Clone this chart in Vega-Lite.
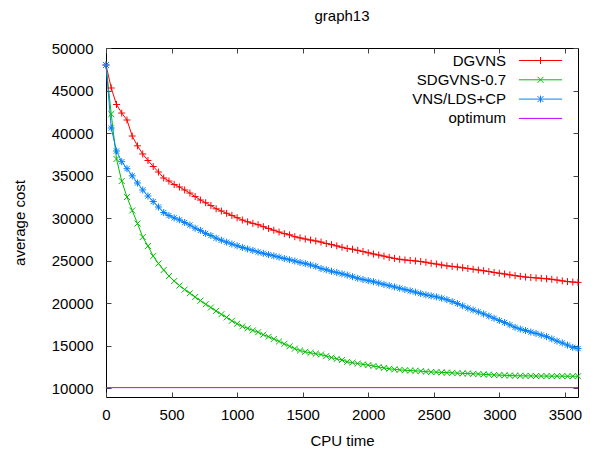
{
"$schema": "https://vega.github.io/schema/vega-lite/v6.json",
"width": 472, "height": 349,
"autosize": {"type": "none"},
"padding": {"left": 106, "top": 48, "right": 13, "bottom": 55},
"background": "white",
"title": {"text": "graph13", "fontSize": 15, "fontWeight": "normal", "font": "Liberation Sans", "color": "black", "offset": 17, "frame": "group"},
"config": {
  "view": {"stroke": "black", "strokeWidth": 1},
  "axis": {"domain": false, "grid": false, "tickColor": "#444", "tickSize": -5, "labelFont": "Liberation Sans", "labelFontSize": 15, "labelColor": "black", "titleFont": "Liberation Sans", "titleFontSize": 15, "titleFontWeight": "normal", "titleColor": "black"}
},
"data": {"values": [
{"s":"DGVNS","t":0,"v":48000},{"s":"DGVNS","t":40,"v":45300},{"s":"DGVNS","t":80,"v":43360},{"s":"DGVNS","t":120,"v":42360},{"s":"DGVNS","t":160,"v":41540},{"s":"DGVNS","t":200,"v":39660},{"s":"DGVNS","t":240,"v":38510},{"s":"DGVNS","t":280,"v":37550},{"s":"DGVNS","t":320,"v":36780},{"s":"DGVNS","t":360,"v":36080},
{"s":"DGVNS","t":400,"v":35430},{"s":"DGVNS","t":440,"v":34730},{"s":"DGVNS","t":480,"v":34370},{"s":"DGVNS","t":520,"v":33960},{"s":"DGVNS","t":560,"v":33670},{"s":"DGVNS","t":600,"v":33320},{"s":"DGVNS","t":640,"v":32960},{"s":"DGVNS","t":680,"v":32550},{"s":"DGVNS","t":720,"v":32140},{"s":"DGVNS","t":760,"v":31820},
{"s":"DGVNS","t":800,"v":31490},{"s":"DGVNS","t":840,"v":31110},{"s":"DGVNS","t":880,"v":30850},{"s":"DGVNS","t":920,"v":30580},{"s":"DGVNS","t":960,"v":30330},{"s":"DGVNS","t":1000,"v":30060},{"s":"DGVNS","t":1040,"v":29790},{"s":"DGVNS","t":1080,"v":29580},{"s":"DGVNS","t":1120,"v":29400},{"s":"DGVNS","t":1160,"v":29240},
{"s":"DGVNS","t":1200,"v":29010},{"s":"DGVNS","t":1240,"v":28790},{"s":"DGVNS","t":1280,"v":28590},{"s":"DGVNS","t":1320,"v":28380},{"s":"DGVNS","t":1360,"v":28190},{"s":"DGVNS","t":1400,"v":28050},{"s":"DGVNS","t":1440,"v":27830},{"s":"DGVNS","t":1480,"v":27690},{"s":"DGVNS","t":1520,"v":27560},{"s":"DGVNS","t":1560,"v":27440},
{"s":"DGVNS","t":1600,"v":27330},{"s":"DGVNS","t":1640,"v":27200},{"s":"DGVNS","t":1680,"v":27030},{"s":"DGVNS","t":1720,"v":26900},{"s":"DGVNS","t":1760,"v":26750},{"s":"DGVNS","t":1800,"v":26590},{"s":"DGVNS","t":1840,"v":26450},{"s":"DGVNS","t":1880,"v":26360},{"s":"DGVNS","t":1920,"v":26230},{"s":"DGVNS","t":1960,"v":26090},
{"s":"DGVNS","t":2000,"v":25940},{"s":"DGVNS","t":2040,"v":25800},{"s":"DGVNS","t":2080,"v":25680},{"s":"DGVNS","t":2120,"v":25550},{"s":"DGVNS","t":2160,"v":25410},{"s":"DGVNS","t":2200,"v":25280},{"s":"DGVNS","t":2240,"v":25180},{"s":"DGVNS","t":2280,"v":25100},{"s":"DGVNS","t":2320,"v":25040},{"s":"DGVNS","t":2360,"v":24980},
{"s":"DGVNS","t":2400,"v":24910},{"s":"DGVNS","t":2440,"v":24830},{"s":"DGVNS","t":2480,"v":24710},{"s":"DGVNS","t":2520,"v":24620},{"s":"DGVNS","t":2560,"v":24510},{"s":"DGVNS","t":2600,"v":24410},{"s":"DGVNS","t":2640,"v":24340},{"s":"DGVNS","t":2680,"v":24270},{"s":"DGVNS","t":2720,"v":24180},{"s":"DGVNS","t":2760,"v":24100},
{"s":"DGVNS","t":2800,"v":24010},{"s":"DGVNS","t":2840,"v":23920},{"s":"DGVNS","t":2880,"v":23830},{"s":"DGVNS","t":2920,"v":23740},{"s":"DGVNS","t":2960,"v":23630},{"s":"DGVNS","t":3000,"v":23540},{"s":"DGVNS","t":3040,"v":23450},{"s":"DGVNS","t":3080,"v":23350},{"s":"DGVNS","t":3120,"v":23260},{"s":"DGVNS","t":3160,"v":23170},
{"s":"DGVNS","t":3200,"v":23090},{"s":"DGVNS","t":3240,"v":23040},{"s":"DGVNS","t":3280,"v":22990},{"s":"DGVNS","t":3320,"v":22940},{"s":"DGVNS","t":3360,"v":22890},{"s":"DGVNS","t":3400,"v":22830},{"s":"DGVNS","t":3440,"v":22740},{"s":"DGVNS","t":3480,"v":22640},{"s":"DGVNS","t":3520,"v":22560},{"s":"DGVNS","t":3560,"v":22510},{"s":"DGVNS","t":3600,"v":22460},
{"s":"SDGVNS-0.7","t":0,"v":48000},{"s":"SDGVNS-0.7","t":40,"v":42240},{"s":"SDGVNS-0.7","t":80,"v":36960},{"s":"SDGVNS-0.7","t":120,"v":34370},{"s":"SDGVNS-0.7","t":160,"v":32490},{"s":"SDGVNS-0.7","t":200,"v":30910},{"s":"SDGVNS-0.7","t":240,"v":29380},{"s":"SDGVNS-0.7","t":280,"v":27790},{"s":"SDGVNS-0.7","t":320,"v":26740},{"s":"SDGVNS-0.7","t":360,"v":25560},
{"s":"SDGVNS-0.7","t":400,"v":24680},{"s":"SDGVNS-0.7","t":440,"v":23920},{"s":"SDGVNS-0.7","t":480,"v":23210},{"s":"SDGVNS-0.7","t":520,"v":22620},{"s":"SDGVNS-0.7","t":560,"v":22090},{"s":"SDGVNS-0.7","t":600,"v":21620},{"s":"SDGVNS-0.7","t":640,"v":21190},{"s":"SDGVNS-0.7","t":680,"v":20740},{"s":"SDGVNS-0.7","t":720,"v":20320},{"s":"SDGVNS-0.7","t":760,"v":19900},
{"s":"SDGVNS-0.7","t":800,"v":19510},{"s":"SDGVNS-0.7","t":840,"v":19110},{"s":"SDGVNS-0.7","t":880,"v":18720},{"s":"SDGVNS-0.7","t":920,"v":18350},{"s":"SDGVNS-0.7","t":960,"v":17950},{"s":"SDGVNS-0.7","t":1000,"v":17610},{"s":"SDGVNS-0.7","t":1040,"v":17290},{"s":"SDGVNS-0.7","t":1080,"v":17070},{"s":"SDGVNS-0.7","t":1120,"v":16830},{"s":"SDGVNS-0.7","t":1160,"v":16610},
{"s":"SDGVNS-0.7","t":1200,"v":16320},{"s":"SDGVNS-0.7","t":1240,"v":16080},{"s":"SDGVNS-0.7","t":1280,"v":15810},{"s":"SDGVNS-0.7","t":1320,"v":15530},{"s":"SDGVNS-0.7","t":1360,"v":15240},{"s":"SDGVNS-0.7","t":1400,"v":14960},{"s":"SDGVNS-0.7","t":1440,"v":14680},{"s":"SDGVNS-0.7","t":1480,"v":14460},{"s":"SDGVNS-0.7","t":1520,"v":14310},{"s":"SDGVNS-0.7","t":1560,"v":14190},
{"s":"SDGVNS-0.7","t":1600,"v":14080},{"s":"SDGVNS-0.7","t":1640,"v":13990},{"s":"SDGVNS-0.7","t":1680,"v":13810},{"s":"SDGVNS-0.7","t":1720,"v":13630},{"s":"SDGVNS-0.7","t":1760,"v":13480},{"s":"SDGVNS-0.7","t":1800,"v":13350},{"s":"SDGVNS-0.7","t":1840,"v":13130},{"s":"SDGVNS-0.7","t":1880,"v":13030},{"s":"SDGVNS-0.7","t":1920,"v":12930},{"s":"SDGVNS-0.7","t":1960,"v":12830},
{"s":"SDGVNS-0.7","t":2000,"v":12750},{"s":"SDGVNS-0.7","t":2040,"v":12640},{"s":"SDGVNS-0.7","t":2080,"v":12530},{"s":"SDGVNS-0.7","t":2120,"v":12420},{"s":"SDGVNS-0.7","t":2160,"v":12320},{"s":"SDGVNS-0.7","t":2200,"v":12250},{"s":"SDGVNS-0.7","t":2240,"v":12190},{"s":"SDGVNS-0.7","t":2280,"v":12140},{"s":"SDGVNS-0.7","t":2320,"v":12110},{"s":"SDGVNS-0.7","t":2360,"v":12070},
{"s":"SDGVNS-0.7","t":2400,"v":12040},{"s":"SDGVNS-0.7","t":2440,"v":11980},{"s":"SDGVNS-0.7","t":2480,"v":11940},{"s":"SDGVNS-0.7","t":2520,"v":11920},{"s":"SDGVNS-0.7","t":2560,"v":11890},{"s":"SDGVNS-0.7","t":2600,"v":11860},{"s":"SDGVNS-0.7","t":2640,"v":11840},{"s":"SDGVNS-0.7","t":2680,"v":11800},{"s":"SDGVNS-0.7","t":2720,"v":11780},{"s":"SDGVNS-0.7","t":2760,"v":11760},
{"s":"SDGVNS-0.7","t":2800,"v":11720},{"s":"SDGVNS-0.7","t":2840,"v":11700},{"s":"SDGVNS-0.7","t":2880,"v":11660},{"s":"SDGVNS-0.7","t":2920,"v":11630},{"s":"SDGVNS-0.7","t":2960,"v":11590},{"s":"SDGVNS-0.7","t":3000,"v":11570},{"s":"SDGVNS-0.7","t":3040,"v":11550},{"s":"SDGVNS-0.7","t":3080,"v":11520},{"s":"SDGVNS-0.7","t":3120,"v":11500},{"s":"SDGVNS-0.7","t":3160,"v":11490},
{"s":"SDGVNS-0.7","t":3200,"v":11480},{"s":"SDGVNS-0.7","t":3240,"v":11480},{"s":"SDGVNS-0.7","t":3280,"v":11460},{"s":"SDGVNS-0.7","t":3320,"v":11460},{"s":"SDGVNS-0.7","t":3360,"v":11460},{"s":"SDGVNS-0.7","t":3400,"v":11450},{"s":"SDGVNS-0.7","t":3440,"v":11450},{"s":"SDGVNS-0.7","t":3480,"v":11450},{"s":"SDGVNS-0.7","t":3520,"v":11440},{"s":"SDGVNS-0.7","t":3560,"v":11440},{"s":"SDGVNS-0.7","t":3600,"v":11440},
{"s":"VNS/LDS+CP","t":0,"v":48000},{"s":"VNS/LDS+CP","t":40,"v":40600},{"s":"VNS/LDS+CP","t":80,"v":37900},{"s":"VNS/LDS+CP","t":120,"v":36640},{"s":"VNS/LDS+CP","t":160,"v":35820},{"s":"VNS/LDS+CP","t":200,"v":34980},{"s":"VNS/LDS+CP","t":240,"v":34140},{"s":"VNS/LDS+CP","t":280,"v":33320},{"s":"VNS/LDS+CP","t":320,"v":32610},{"s":"VNS/LDS+CP","t":360,"v":31960},
{"s":"VNS/LDS+CP","t":400,"v":31320},{"s":"VNS/LDS+CP","t":440,"v":30670},{"s":"VNS/LDS+CP","t":480,"v":30320},{"s":"VNS/LDS+CP","t":520,"v":30040},{"s":"VNS/LDS+CP","t":560,"v":29810},{"s":"VNS/LDS+CP","t":600,"v":29500},{"s":"VNS/LDS+CP","t":640,"v":29200},{"s":"VNS/LDS+CP","t":680,"v":28830},{"s":"VNS/LDS+CP","t":720,"v":28570},{"s":"VNS/LDS+CP","t":760,"v":28220},
{"s":"VNS/LDS+CP","t":800,"v":27970},{"s":"VNS/LDS+CP","t":840,"v":27660},{"s":"VNS/LDS+CP","t":880,"v":27420},{"s":"VNS/LDS+CP","t":920,"v":27190},{"s":"VNS/LDS+CP","t":960,"v":26970},{"s":"VNS/LDS+CP","t":1000,"v":26770},{"s":"VNS/LDS+CP","t":1040,"v":26560},{"s":"VNS/LDS+CP","t":1080,"v":26390},{"s":"VNS/LDS+CP","t":1120,"v":26220},{"s":"VNS/LDS+CP","t":1160,"v":26030},
{"s":"VNS/LDS+CP","t":1200,"v":25880},{"s":"VNS/LDS+CP","t":1240,"v":25720},{"s":"VNS/LDS+CP","t":1280,"v":25580},{"s":"VNS/LDS+CP","t":1320,"v":25430},{"s":"VNS/LDS+CP","t":1360,"v":25270},{"s":"VNS/LDS+CP","t":1400,"v":25120},{"s":"VNS/LDS+CP","t":1440,"v":24970},{"s":"VNS/LDS+CP","t":1480,"v":24810},{"s":"VNS/LDS+CP","t":1520,"v":24670},{"s":"VNS/LDS+CP","t":1560,"v":24510},
{"s":"VNS/LDS+CP","t":1600,"v":24350},{"s":"VNS/LDS+CP","t":1640,"v":24090},{"s":"VNS/LDS+CP","t":1680,"v":23940},{"s":"VNS/LDS+CP","t":1720,"v":23770},{"s":"VNS/LDS+CP","t":1760,"v":23620},{"s":"VNS/LDS+CP","t":1800,"v":23470},{"s":"VNS/LDS+CP","t":1840,"v":23320},{"s":"VNS/LDS+CP","t":1880,"v":23130},{"s":"VNS/LDS+CP","t":1920,"v":22950},{"s":"VNS/LDS+CP","t":1960,"v":22800},
{"s":"VNS/LDS+CP","t":2000,"v":22670},{"s":"VNS/LDS+CP","t":2040,"v":22540},{"s":"VNS/LDS+CP","t":2080,"v":22390},{"s":"VNS/LDS+CP","t":2120,"v":22230},{"s":"VNS/LDS+CP","t":2160,"v":22080},{"s":"VNS/LDS+CP","t":2200,"v":21930},{"s":"VNS/LDS+CP","t":2240,"v":21780},{"s":"VNS/LDS+CP","t":2280,"v":21620},{"s":"VNS/LDS+CP","t":2320,"v":21470},{"s":"VNS/LDS+CP","t":2360,"v":21320},
{"s":"VNS/LDS+CP","t":2400,"v":21150},{"s":"VNS/LDS+CP","t":2440,"v":21000},{"s":"VNS/LDS+CP","t":2480,"v":20880},{"s":"VNS/LDS+CP","t":2520,"v":20760},{"s":"VNS/LDS+CP","t":2560,"v":20610},{"s":"VNS/LDS+CP","t":2600,"v":20430},{"s":"VNS/LDS+CP","t":2640,"v":20210},{"s":"VNS/LDS+CP","t":2680,"v":19980},{"s":"VNS/LDS+CP","t":2720,"v":19710},{"s":"VNS/LDS+CP","t":2760,"v":19450},
{"s":"VNS/LDS+CP","t":2800,"v":19220},{"s":"VNS/LDS+CP","t":2840,"v":19000},{"s":"VNS/LDS+CP","t":2880,"v":18760},{"s":"VNS/LDS+CP","t":2920,"v":18510},{"s":"VNS/LDS+CP","t":2960,"v":18250},{"s":"VNS/LDS+CP","t":3000,"v":17980},{"s":"VNS/LDS+CP","t":3040,"v":17750},{"s":"VNS/LDS+CP","t":3080,"v":17480},{"s":"VNS/LDS+CP","t":3120,"v":17190},{"s":"VNS/LDS+CP","t":3160,"v":16980},
{"s":"VNS/LDS+CP","t":3200,"v":16810},{"s":"VNS/LDS+CP","t":3240,"v":16630},{"s":"VNS/LDS+CP","t":3280,"v":16470},{"s":"VNS/LDS+CP","t":3320,"v":16280},{"s":"VNS/LDS+CP","t":3360,"v":16090},{"s":"VNS/LDS+CP","t":3400,"v":15830},{"s":"VNS/LDS+CP","t":3440,"v":15570},{"s":"VNS/LDS+CP","t":3480,"v":15350},{"s":"VNS/LDS+CP","t":3520,"v":15100},{"s":"VNS/LDS+CP","t":3560,"v":14830},{"s":"VNS/LDS+CP","t":3600,"v":14690},
{"s":"optimum","t":0,"v":10100},{"s":"optimum","t":3600,"v":10100}
]},
"resolve": {"axis": {"x": "independent", "y": "independent"}},
"layer": [
  {
    "mark": {"type": "line", "strokeWidth": 1},
    "encoding": {
      "x": {"field": "t", "type": "quantitative", "scale": {"domain": [0, 3600], "nice": false, "zero": false},
            "axis": {"title": "CPU time", "values": [0,500,1000,1500,2000,2500,3000,3500], "format": "d", "labelPadding": 15, "titlePadding": 11, "labelFlush": false, "labelOverlap": false}},
      "y": {"field": "v", "type": "quantitative", "scale": {"domain": [9000, 50000], "nice": false, "zero": false},
            "axis": {"title": "average cost", "values": [10000,15000,20000,25000,30000,35000,40000,45000,50000], "labelPadding": 18, "titlePadding": 24, "format": "d", "labelFlush": false, "labelOverlap": false}},
      "color": {"field": "s", "type": "nominal",
        "scale": {"domain": ["DGVNS", "SDGVNS-0.7", "VNS/LDS+CP", "optimum"], "range": ["#ff0000", "#00c000", "#0080ff", "#c000ff"]},
        "legend": {"orient": "none", "legendX": 427, "legendY": 5, "title": null, "padding": 0,
          "labelFont": "Liberation Sans", "labelFontSize": 15, "labelColor": "black", "labelAlign": "right", "labelOffset": -42,
          "symbolSize": 64, "symbolOffset": 0, "rowPadding": 3.3, "symbolStrokeWidth": 1,
          "encode": {"symbols": {"update": {
            "shape": {"signal": "datum.value === 'DGVNS' ? 'M-5.4,0H5.4M0,-0.875V0.875' : datum.value === 'SDGVNS-0.7' ? 'M-5.4,0H5.4M-0.75,-0.75L0.75,0.75M-0.75,0.75L0.75,-0.75' : datum.value === 'VNS/LDS+CP' ? 'M-5.4,0H5.4M0,-0.875V0.875M-0.75,-0.75L0.75,0.75M-0.75,0.75L0.75,-0.75' : 'M-5.4,0H5.4'"},
            "fill": {"value": "transparent"},
            "strokeWidth": {"value": 1},
            "opacity": {"value": 1}
          }}}
        }
      }
    }
  },
  {
    "transform": [{"filter": "datum.s !== 'optimum'"}],
    "mark": {"type": "point", "filled": false, "strokeWidth": 1, "size": 49, "opacity": 1},
    "encoding": {
      "x": {"field": "t", "type": "quantitative", "axis": {"orient": "top", "labels": false, "title": null, "values": [0,500,1000,1500,2000,2500,3000,3500]}},
      "y": {"field": "v", "type": "quantitative", "axis": {"orient": "right", "labels": false, "title": null, "values": [10000,15000,20000,25000,30000,35000,40000,45000,50000]}},
      "color": {"field": "s", "type": "nominal"},
      "shape": {"field": "s", "type": "nominal", "legend": null,
        "scale": {"domain": ["DGVNS", "SDGVNS-0.7", "VNS/LDS+CP"], "range": ["M-1,0H1M0,-1V1", "M-0.85,-0.85L0.85,0.85M-0.85,0.85L0.85,-0.85", "M-1,0H1M0,-1V1M-0.75,-0.75L0.75,0.75M-0.75,0.75L0.75,-0.75"]}}
    }
  }
]
}
